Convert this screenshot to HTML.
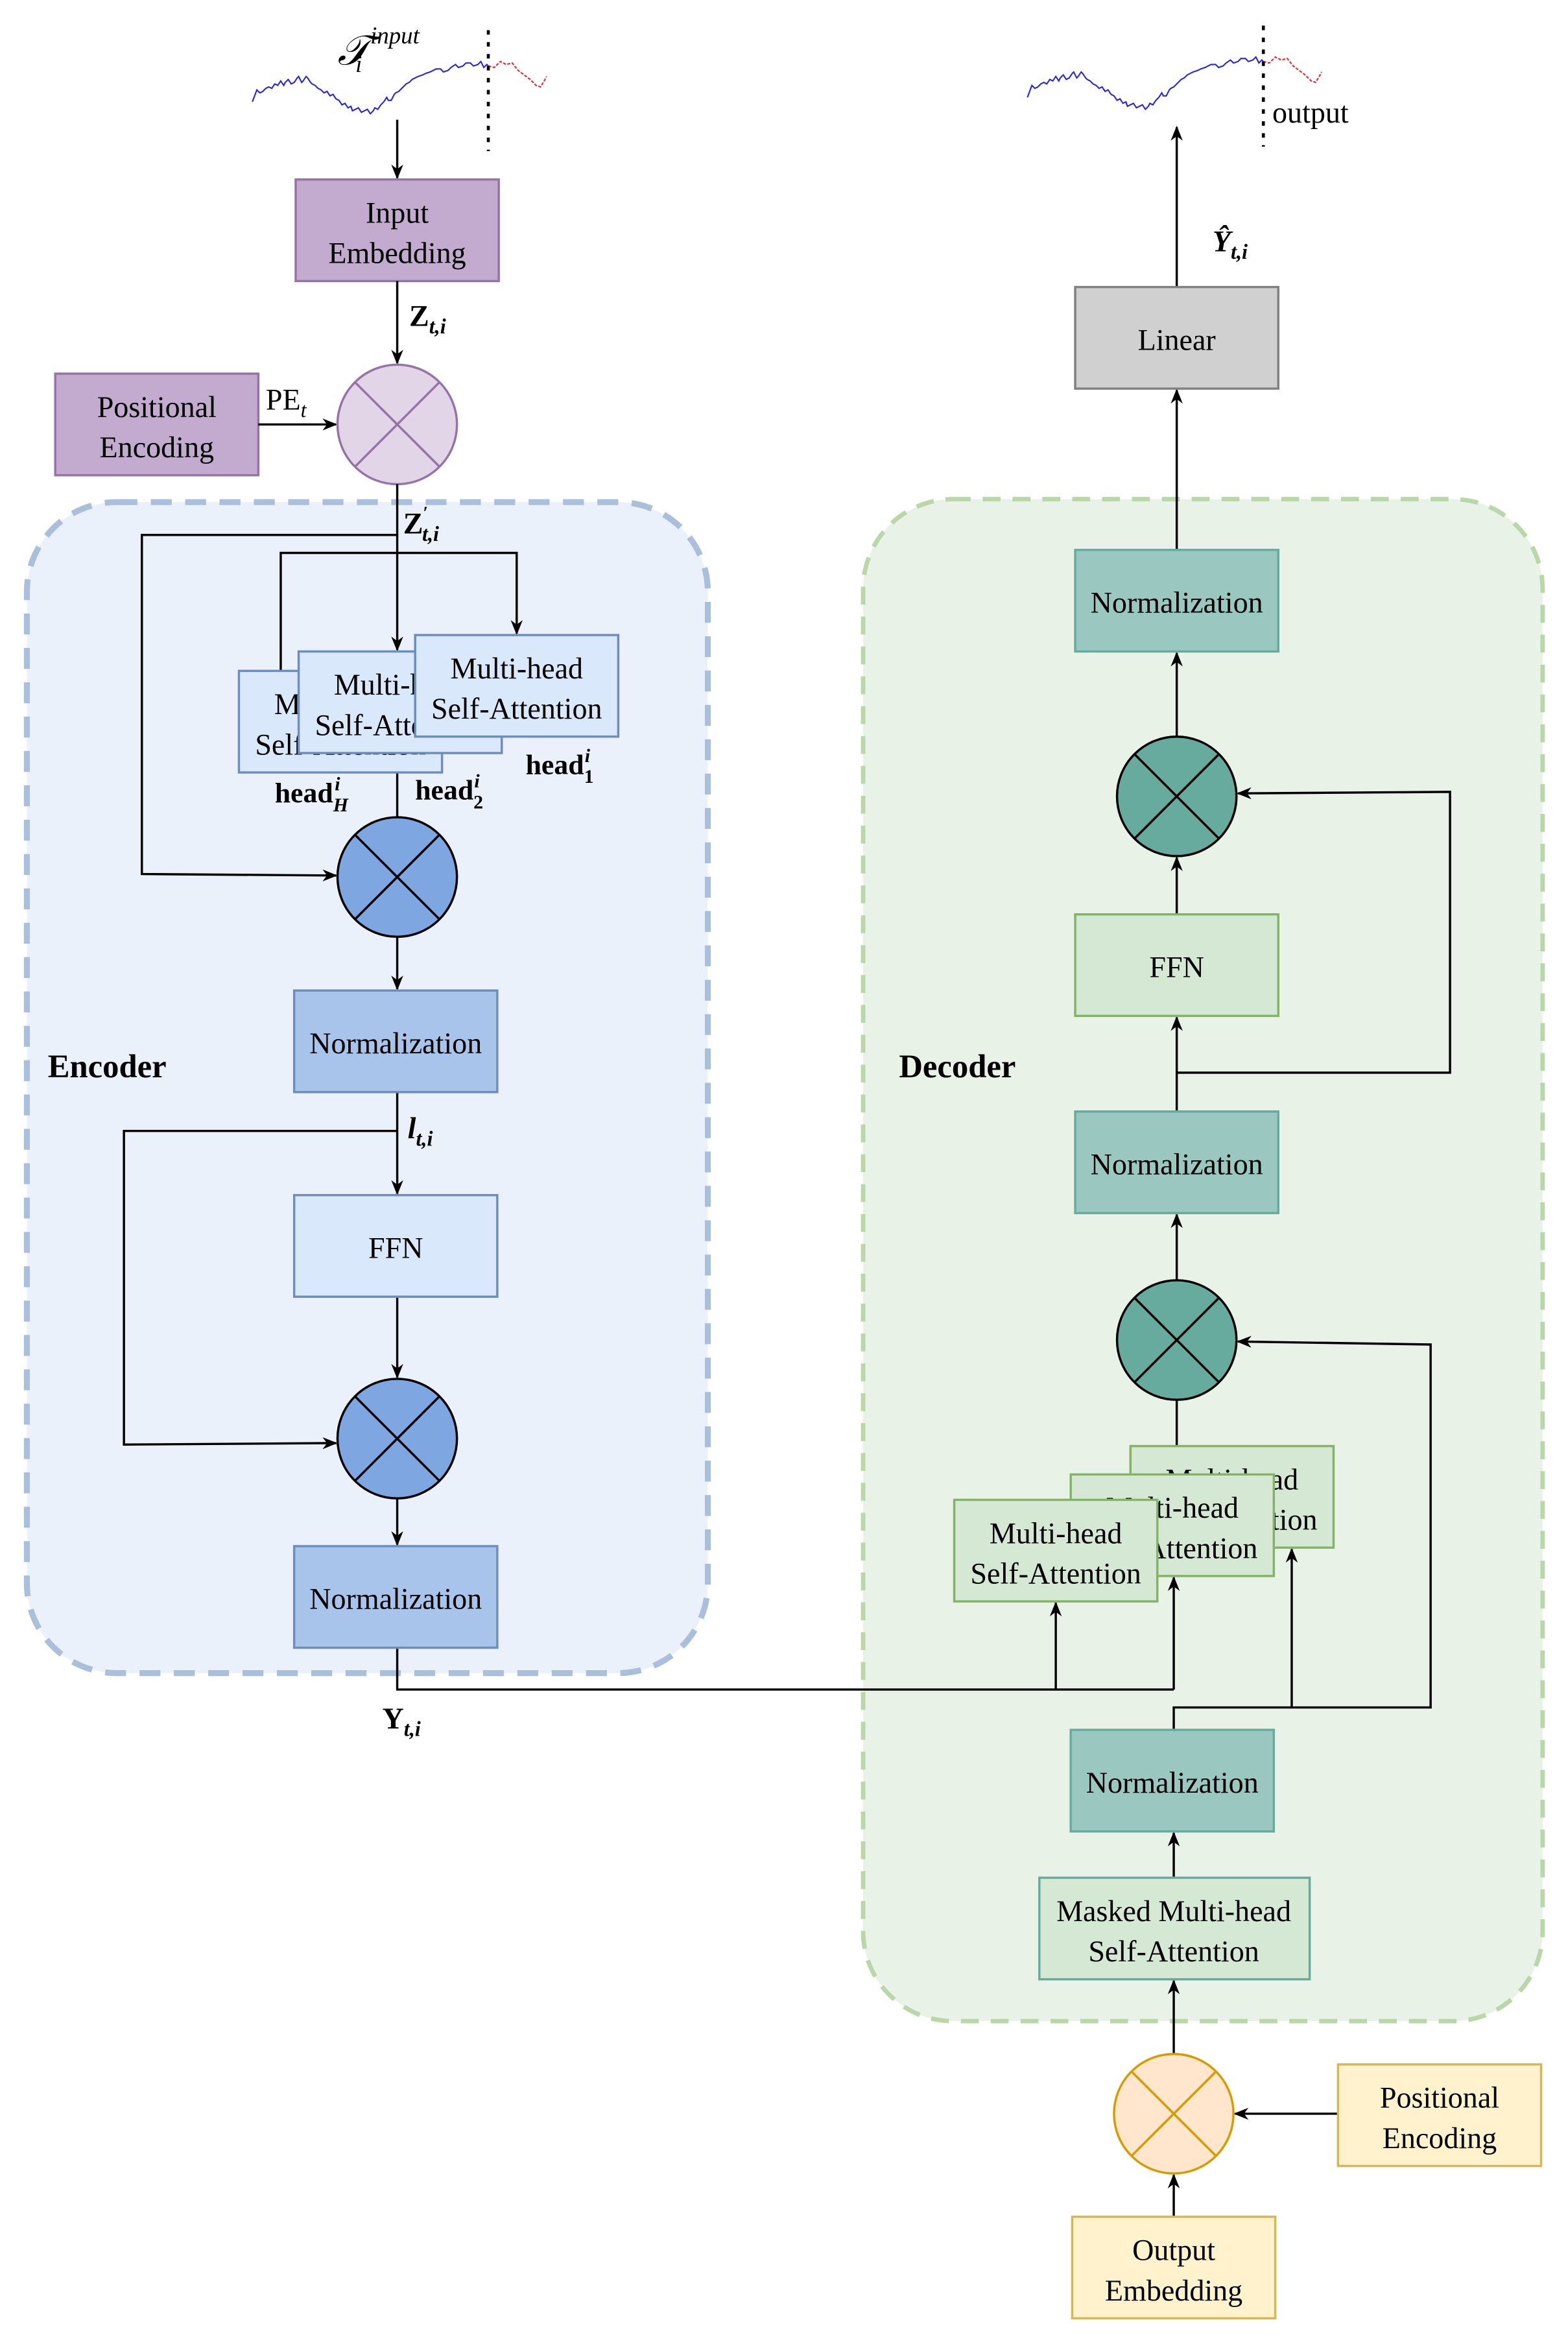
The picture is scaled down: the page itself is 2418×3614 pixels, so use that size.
<!DOCTYPE html>
<html><head><meta charset="utf-8"><style>
html,body{margin:0;padding:0;background:#fff}
svg{display:block}
svg text{font-family:"Liberation Serif","DejaVu Serif",serif;fill:#000}
</style></head><body>
<svg width="2418" height="3614" viewBox="0 0 1050 1569" xmlns="http://www.w3.org/2000/svg" font-family="Liberation Serif, serif">
<defs>
<marker id="a" markerWidth="10" markerHeight="10" refX="9" refY="5" orient="auto" markerUnits="userSpaceOnUse">
<path d="M0,1 L10,5 L0,9 L3,5 z" fill="#000"/></marker>
<g id="ser">
<polyline fill="none" stroke="#2222ee" stroke-width="0.9" points="169,68 172,60 174,62 176,61 178,59 180,58 182,59 184,56 186,57 188,54 190,57 191,55 193,53 195,56 197,55 199,52 200,51 202,55 203,54 205,51 206,52 208,55 209,56 211,57 213,59 215,60 217,62 219,61 221,64 223,63 225,66 227,67 229,70 231,69 233,72 235,71 236,74 238,73 240,72 242,75 244,74 246,73 248,76 250,74 251,72 253,73 255,70 257,68 259,65 260,67 262,67 264,63 265,62 267,61 268,60 270,58 272,56 274,55 276,53 278,52 280,51 283,50 285,49 288,48 290,47 292,46 295,46 297,48 300,47 302,45 305,43 307,45 310,44 312,42 315,42 317,44 320,43 322,41 324,45 326,43 327,44"/>
<polyline fill="none" stroke="#ee2222" stroke-width="0.9" stroke-dasharray="2,1" points="327,44 331,45 335,41 339,43 343,42 347,47 351,50 355,53 359,57 362,58 365,53 366,51"/>
<line x1="327" y1="20" x2="327" y2="101" stroke="#000" stroke-width="2" stroke-dasharray="3,5"/>
</g>
</defs>
<rect width="1050" height="1569" fill="#fff"/>

<rect x="18" y="336" width="456" height="784" rx="60" fill="#ebf1fb" stroke="#a9bfdc" stroke-width="4" stroke-dasharray="14,9"/>
<rect x="578" y="334" width="455" height="1019" rx="60" fill="#e9f2e6" stroke="#b9d7a8" stroke-width="3" stroke-dasharray="12,8"/>
<text x="32" y="721" font-size="22" font-weight="bold">Encoder</text>
<text x="602" y="721" font-size="22" font-weight="bold">Decoder</text>

<use href="#ser"/>
<text x="226" y="43" font-size="28" font-style="italic">𝒯</text>
<text x="238" y="48" font-size="16" font-style="italic">i</text>
<text x="248" y="29" font-size="16" font-style="italic">input</text>
<line x1="266" y1="80" x2="266" y2="119" stroke="#000" stroke-width="1.5" marker-end="url(#a)"/>
<rect x="198" y="120" width="136" height="68" fill="#c3abd0" stroke="#9673a6" stroke-width="1.5"/>
<text x="266" y="149" font-size="20" text-anchor="middle">Input</text>
<text x="266" y="176" font-size="20" text-anchor="middle">Embedding</text>
<line x1="266" y1="188" x2="266" y2="243" stroke="#000" stroke-width="1.5" marker-end="url(#a)"/>
<text x="274" y="218" font-size="20" font-weight="bold">Z<tspan font-size="14" font-style="italic" dy="5">t,i</tspan></text>
<rect x="37" y="250" width="136" height="68" fill="#c3abd0" stroke="#9673a6" stroke-width="1.5"/>
<text x="105" y="279" font-size="20" text-anchor="middle">Positional</text>
<text x="105" y="306" font-size="20" text-anchor="middle">Encoding</text>
<line x1="173" y1="284" x2="225" y2="284" stroke="#000" stroke-width="1.5" marker-end="url(#a)"/>
<text x="178" y="274" font-size="20">PE<tspan font-size="14" font-style="italic" dy="5">t</tspan></text>
<g stroke="#9673a6" stroke-width="1.5"><ellipse cx="266" cy="284" rx="40" ry="40" fill="#e1d5e7"/>
<line x1="238" y1="256" x2="294" y2="312"/><line x1="294" y1="256" x2="238" y2="312"/></g>

<g stroke="#000" stroke-width="1.5" fill="none">
<line x1="266" y1="324" x2="266" y2="435" marker-end="url(#a)"/>
<polyline points="266,358 95,358 95,585 225,586" marker-end="url(#a)"/>
<polyline points="188,449 188,370 346,370 346,424" marker-end="url(#a)"/>
<line x1="266" y1="504" x2="266" y2="547"/>
<line x1="266" y1="627" x2="266" y2="662" marker-end="url(#a)"/>
<line x1="266" y1="731" x2="266" y2="799" marker-end="url(#a)"/>
<polyline points="266,757 83,757 83,967 225,966" marker-end="url(#a)"/>
<line x1="266" y1="868" x2="266" y2="922" marker-end="url(#a)"/>
<line x1="266" y1="1003" x2="266" y2="1034" marker-end="url(#a)"/>
<polyline points="266,1103 266,1131 786,1131"/>
<line x1="707" y1="1131" x2="707" y2="1073" marker-end="url(#a)"/>
<line x1="786" y1="1131" x2="786" y2="1056" marker-end="url(#a)"/>
</g>
<text x="270" y="357" font-size="20" font-weight="bold">Z<tspan font-size="12" dy="-10">′</tspan><tspan font-size="14" font-style="italic" dy="15" dx="-4">t,i</tspan></text>

<g font-size="20" text-anchor="middle">
<rect x="160" y="449" width="136" height="68" fill="#dae8fc" stroke="#6c8ebf" stroke-width="1.5"/>
<text x="228" y="478">Multi-head</text><text x="228" y="505">Self-Attention</text>
<rect x="200" y="436" width="136" height="68" fill="#dae8fc" stroke="#6c8ebf" stroke-width="1.5"/>
<text x="268" y="465">Multi-head</text><text x="268" y="492">Self-Attention</text>
<rect x="278" y="425" width="136" height="68" fill="#dae8fc" stroke="#6c8ebf" stroke-width="1.5"/>
<text x="346" y="454">Multi-head</text><text x="346" y="481">Self-Attention</text>
</g>
<text x="184" y="537" font-size="19" font-weight="bold">head<tspan font-size="13" font-style="italic" dy="6">H</tspan><tspan font-size="13" font-style="italic" dy="-14" dx="-9">i</tspan></text>
<text x="278" y="535" font-size="19" font-weight="bold">head<tspan font-size="13" dy="6">2</tspan><tspan font-size="13" font-style="italic" dy="-14" dx="-6">i</tspan></text>
<text x="352" y="518" font-size="19" font-weight="bold">head<tspan font-size="13" dy="6">1</tspan><tspan font-size="13" font-style="italic" dy="-14" dx="-6">i</tspan></text>

<g stroke="#000" stroke-width="1.5"><circle cx="266" cy="587" r="40" fill="#7ea6e0"/>
<line x1="238" y1="559" x2="294" y2="615"/><line x1="294" y1="559" x2="238" y2="615"/>
<circle cx="266" cy="963" r="40" fill="#7ea6e0"/>
<line x1="238" y1="935" x2="294" y2="991"/><line x1="294" y1="935" x2="238" y2="991"/></g>

<g font-size="20" text-anchor="middle">
<rect x="197" y="663" width="136" height="68" fill="#a9c4eb" stroke="#6c8ebf" stroke-width="1.5"/>
<text x="265" y="705">Normalization</text>
<rect x="197" y="800" width="136" height="68" fill="#dae8fc" stroke="#6c8ebf" stroke-width="1.5"/>
<text x="265" y="842">FFN</text>
<rect x="197" y="1035" width="136" height="68" fill="#a9c4eb" stroke="#6c8ebf" stroke-width="1.5"/>
<text x="265" y="1077">Normalization</text>
</g>
<text x="273" y="762" font-size="20" font-weight="bold" font-style="italic">l<tspan font-size="14" dy="5">t,i</tspan></text>
<text x="256" y="1157" font-size="20" font-weight="bold">Y<tspan font-size="14" font-style="italic" dy="5">t,i</tspan></text>

<use href="#ser" transform="translate(519,-3)"/>
<text x="852" y="82" font-size="20">output</text>
<g stroke="#000" stroke-width="1.5" fill="none">
<line x1="788" y1="192" x2="788" y2="85" marker-end="url(#a)"/>
<line x1="788" y1="368" x2="788" y2="261" marker-end="url(#a)"/>
<line x1="788" y1="493" x2="788" y2="437" marker-end="url(#a)"/>
<line x1="788" y1="612" x2="788" y2="574" marker-end="url(#a)"/>
<line x1="788" y1="744" x2="788" y2="681" marker-end="url(#a)"/>
<polyline points="788,718 971,718 971,530 829,531" marker-end="url(#a)"/>
<line x1="788" y1="857" x2="788" y2="813" marker-end="url(#a)"/>
<line x1="788" y1="968" x2="788" y2="937"/>
<polyline points="786,1158 786,1143 958,1143 958,900 829,898" marker-end="url(#a)"/>
<line x1="865" y1="1143" x2="865" y2="1037" marker-end="url(#a)"/>
<line x1="786" y1="1257" x2="786" y2="1227" marker-end="url(#a)"/>
<line x1="786" y1="1375" x2="786" y2="1326" marker-end="url(#a)"/>
<line x1="896" y1="1415" x2="827" y2="1415" marker-end="url(#a)"/>
<line x1="786" y1="1484" x2="786" y2="1456" marker-end="url(#a)"/>
</g>
<text x="812" y="168" font-size="20" font-weight="bold" font-style="italic">Ŷ<tspan font-size="14" dy="5">t,i</tspan></text>

<g font-size="20" text-anchor="middle">
<rect x="720" y="192" width="136" height="68" fill="#d0d0d0" stroke="#808080" stroke-width="1.5"/>
<text x="788" y="234">Linear</text>
<rect x="720" y="368" width="136" height="68" fill="#9ac7bf" stroke="#67ab9f" stroke-width="1.5"/>
<text x="788" y="410">Normalization</text>
<rect x="720" y="612" width="136" height="68" fill="#d5e8d4" stroke="#82b366" stroke-width="1.5"/>
<text x="788" y="654">FFN</text>
<rect x="720" y="744" width="136" height="68" fill="#9ac7bf" stroke="#67ab9f" stroke-width="1.5"/>
<text x="788" y="786">Normalization</text>
<rect x="757" y="968" width="136" height="68" fill="#d5e8d4" stroke="#82b366" stroke-width="1.5"/>
<text x="825" y="997">Multi-head</text><text x="825" y="1024">Self-Attention</text>
<rect x="717" y="987" width="136" height="68" fill="#d5e8d4" stroke="#82b366" stroke-width="1.5"/>
<text x="785" y="1016">Multi-head</text><text x="785" y="1043">Self-Attention</text>
<rect x="639" y="1004" width="136" height="68" fill="#d5e8d4" stroke="#82b366" stroke-width="1.5"/>
<text x="707" y="1033">Multi-head</text><text x="707" y="1060">Self-Attention</text>
<rect x="717" y="1158" width="136" height="68" fill="#9ac7bf" stroke="#67ab9f" stroke-width="1.5"/>
<text x="785" y="1200">Normalization</text>
<rect x="696" y="1257" width="181" height="68" fill="#d5e8d4" stroke="#67ab9f" stroke-width="1.5"/>
<text x="786" y="1286">Masked Multi-head</text><text x="786" y="1313">Self-Attention</text>
<rect x="896" y="1382" width="136" height="68" fill="#fff2cc" stroke="#d6b656" stroke-width="1.5"/>
<text x="964" y="1411">Positional</text><text x="964" y="1438">Encoding</text>
<rect x="718" y="1484" width="136" height="68" fill="#fff2cc" stroke="#d6b656" stroke-width="1.5"/>
<text x="786" y="1513">Output</text><text x="786" y="1540">Embedding</text>
</g>

<g stroke="#000" stroke-width="1.5">
<circle cx="788" cy="533" r="40" fill="#67ab9f"/>
<line x1="760" y1="505" x2="816" y2="561"/><line x1="816" y1="505" x2="760" y2="561"/>
<circle cx="788" cy="897" r="40" fill="#67ab9f"/>
<line x1="760" y1="869" x2="816" y2="925"/><line x1="816" y1="869" x2="760" y2="925"/>
</g>
<g stroke="#d79b00" stroke-width="1.5">
<circle cx="786" cy="1415" r="40" fill="#ffe6cc"/>
<line x1="758" y1="1387" x2="814" y2="1443"/><line x1="814" y1="1387" x2="758" y2="1443"/>
</g>
</svg>
</body></html>
